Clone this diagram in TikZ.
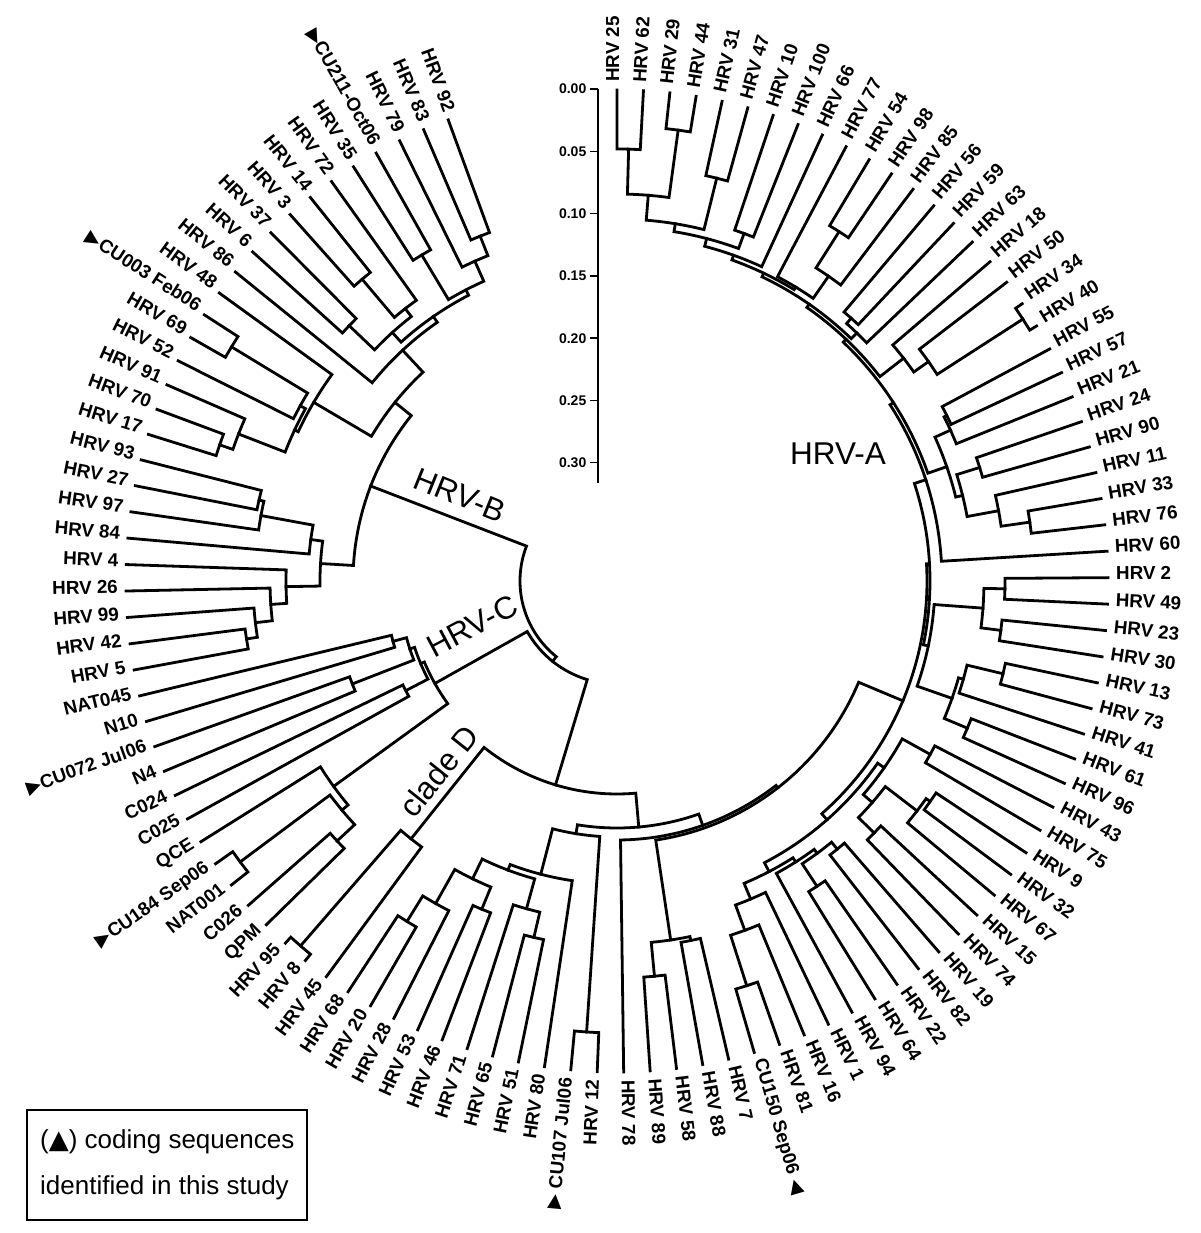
\documentclass[tikz,border=0pt]{standalone}
\usepackage{fontspec}
\newfontfamily\lsans{Liberation Sans}
\newfontfamily\dvs{DejaVu Sans}
\newcommand\mkl{{\dvs\char"25B6}}
\newcommand\mkr{{\dvs\char"25C0}}
\tikzset{
  br/.style={line width=2.8pt,line cap=rect,line join=miter},
  lbl/.style={font=\lsans\bfseries\fontsize{18.8}{20}\selectfont,inner sep=0pt,text height=13.3pt,text depth=0pt},
  cladelbl/.style={font=\lsans\fontsize{31.5}{33}\selectfont,inner sep=0pt},
  tickl/.style={line width=1.4pt},
  scl/.style={font=\lsans\bfseries\fontsize{14}{15}\selectfont,inner sep=0pt,anchor=east},
  legtxt/.style={font=\lsans\fontsize{26}{28}\selectfont,inner sep=0pt,anchor=west},
}
\newcommand\mkleaf[2]{%
  \pgfmathsetmacro\myang{90-#1*3.09}%
  \expandafter\xdef\csname A@L#1\endcsname{\myang}%
  \coordinate (L#1) at (\myang:491);%
  \ifnum#1<59\relax
    \pgfmathsetmacro\px{499*cos(\myang)+2.2*sin(\myang)}%
    \pgfmathsetmacro\py{499*sin(\myang)-2.2*cos(\myang)}%
    \node[lbl,anchor=base west,rotate=\myang] (T#1) at (\px,\py) {#2};%
  \else
    \pgfmathsetmacro\myrot{\myang+180}%
    \pgfmathsetmacro\px{499*cos(\myang)-2.2*sin(\myang)}%
    \pgfmathsetmacro\py{499*sin(\myang)+2.2*cos(\myang)}%
    \node[lbl,anchor=base east,rotate=\myrot] (T#1) at (\px,\py) {#2};%
  \fi}
\newcommand\mkclade[4]{%
  \edef\angA{\csname A@#3\endcsname}%
  \edef\angB{\csname A@#4\endcsname}%
  \pgfmathsetmacro\angM{(\angA+\angB)/2}%
  \expandafter\xdef\csname A@#1\endcsname{\angM}%
  \coordinate (#1) at (\angM:#2);%
  \draw[br] (#3) -- (\angA:#2) arc[start angle=\angA,end angle=\angB,radius=#2pt] -- (#4);}
\begin{document}
\begin{tikzpicture}[x=1pt,y=1pt]
\useasboundingbox (-617,-652) rectangle (583,581);
% leaves
\mkleaf{0}{HRV 25}\mkleaf{1}{HRV 62}\mkleaf{2}{HRV 29}\mkleaf{3}{HRV 44}
\mkleaf{4}{HRV 31}\mkleaf{5}{HRV 47}\mkleaf{6}{HRV 10}\mkleaf{7}{HRV 100}
\mkleaf{8}{HRV 66}\mkleaf{9}{HRV 77}\mkleaf{10}{HRV 54}\mkleaf{11}{HRV 98}
\mkleaf{12}{HRV 85}\mkleaf{13}{HRV 56}\mkleaf{14}{HRV 59}\mkleaf{15}{HRV 63}
\mkleaf{16}{HRV 18}\mkleaf{17}{HRV 50}\mkleaf{18}{HRV 34}\mkleaf{19}{HRV 40}
\mkleaf{20}{HRV 55}\mkleaf{21}{HRV 57}\mkleaf{22}{HRV 21}\mkleaf{23}{HRV 24}
\mkleaf{24}{HRV 90}\mkleaf{25}{HRV 11}\mkleaf{26}{HRV 33}\mkleaf{27}{HRV 76}
\mkleaf{28}{HRV 60}\mkleaf{29}{HRV 2}\mkleaf{30}{HRV 49}\mkleaf{31}{HRV 23}
\mkleaf{32}{HRV 30}\mkleaf{33}{HRV 13}\mkleaf{34}{HRV 73}\mkleaf{35}{HRV 41}
\mkleaf{36}{HRV 61}\mkleaf{37}{HRV 96}\mkleaf{38}{HRV 43}\mkleaf{39}{HRV 75}
\mkleaf{40}{HRV 9}\mkleaf{41}{HRV 32}\mkleaf{42}{HRV 67}\mkleaf{43}{HRV 15}
\mkleaf{44}{HRV 74}\mkleaf{45}{HRV 19}\mkleaf{46}{HRV 82}\mkleaf{47}{HRV 22}
\mkleaf{48}{HRV 64}\mkleaf{49}{HRV 94}\mkleaf{50}{HRV 1}\mkleaf{51}{HRV 16}
\mkleaf{52}{HRV 81}\mkleaf{53}{CU150 Sep06\hspace{6pt}\mkr}\mkleaf{54}{HRV 7}\mkleaf{55}{HRV 88}
\mkleaf{56}{HRV 58}\mkleaf{57}{HRV 89}\mkleaf{58}{HRV 78}\mkleaf{59}{HRV 12}
\mkleaf{60}{\mkl\hspace{6pt}CU107 Jul06}\mkleaf{61}{HRV 80}\mkleaf{62}{HRV 51}\mkleaf{63}{HRV 65}
\mkleaf{64}{HRV 71}\mkleaf{65}{HRV 46}\mkleaf{66}{HRV 53}\mkleaf{67}{HRV 28}
\mkleaf{68}{HRV 20}\mkleaf{69}{HRV 68}\mkleaf{70}{HRV 45}\mkleaf{71}{HRV 8}
\mkleaf{72}{HRV 95}\mkleaf{73}{QPM}\mkleaf{74}{C026}\mkleaf{75}{NAT001}
\mkleaf{76}{\mkl CU184 Sep06}\mkleaf{77}{QCE}\mkleaf{78}{C025}\mkleaf{79}{C024}
\mkleaf{80}{N4}\mkleaf{81}{\mkl CU072 Jul06}\mkleaf{82}{N10}\mkleaf{83}{NAT045}
\mkleaf{84}{HRV 5}\mkleaf{85}{HRV 42}\mkleaf{86}{HRV 99}\mkleaf{87}{HRV 26}
\mkleaf{88}{HRV 4}\mkleaf{89}{HRV 84}\mkleaf{90}{HRV 97}\mkleaf{91}{HRV 27}
\mkleaf{92}{HRV 93}\mkleaf{93}{HRV 17}\mkleaf{94}{HRV 70}\mkleaf{95}{HRV 91}
\mkleaf{96}{HRV 52}\mkleaf{97}{HRV 69}\mkleaf{98}{\mkl CU003 Feb06}\mkleaf{99}{HRV 48}
\mkleaf{100}{HRV 86}\mkleaf{101}{HRV 6}\mkleaf{102}{HRV 37}\mkleaf{103}{HRV 3}
\mkleaf{104}{HRV 14}\mkleaf{105}{HRV 72}\mkleaf{106}{HRV 35}\mkleaf{107}{\mkl CU211-Oct06}
\mkleaf{108}{HRV 79}\mkleaf{109}{HRV 83}\mkleaf{110}{HRV 92}
% HRV-A upper
\mkclade{a1}{432}{L0}{L1}
\mkclade{a2}{455}{L2}{L3}
\mkclade{a3}{387}{a1}{a2}
\mkclade{a4}{415}{L4}{L5}
\mkclade{a5}{362}{a3}{a4}
\mkclade{a6}{370}{L6}{L7}
\mkclade{a7}{354}{a5}{a6}
\mkclade{a7b}{346}{a7}{L8}
\mkclade{a8}{414}{L10}{L11}
\mkclade{a9}{371}{a8}{L12}
\mkclade{a10}{344}{L9}{a9}
\mkclade{s1}{341}{a7b}{a10}
\mkclade{q1}{352}{L13}{L14}
\mkclade{q2}{345}{q1}{L15}
\mkclade{s4}{337}{s1}{q2}
\mkclade{a13}{483}{L18}{L19}
\mkclade{a14}{381}{L17}{a13}
\mkclade{aA3}{363}{L16}{a14}
\mkclade{s5}{333}{s4}{aA3}
\mkclade{a15}{369}{L20}{L21}
\mkclade{a16}{366}{a15}{L22}
\mkclade{a17}{380}{L23}{L24}
\mkclade{a18}{417}{L26}{L27}
\mkclade{a19}{388}{L25}{a18}
\mkclade{a20}{356}{a17}{a19}
\mkclade{aA4}{349}{a16}{a20}
\mkclade{s6}{329}{s5}{aA4}
\mkclade{s7}{325}{s6}{L28}
\mkclade{a21}{388}{L29}{L30}
\mkclade{a22}{387}{L31}{L32}
\mkclade{a23}{367}{a21}{a22}
\mkclade{a24}{397}{L33}{L34}
\mkclade{a25}{360}{a24}{L35}
\mkclade{a26}{380}{L36}{L37}
\mkclade{a27}{355}{a25}{a26}
\mkclade{aU2}{318}{a23}{a27}
\mkclade{aU}{313}{s7}{aU2}
% HRV-A lower
\mkclade{a31}{358}{L38}{L39}
\mkclade{a32}{383}{L40}{L41}
\mkclade{a33}{378}{a32}{L42}
\mkclade{a34}{360}{L43}{L44}
\mkclade{a35}{338}{a33}{a34}
\mkclade{a36}{326}{a31}{a35}
\mkclade{a37}{347}{L45}{L46}
\mkclade{a38}{365}{L47}{L48}
\mkclade{a39}{338}{a37}{a38}
\mkclade{a40}{333}{a39}{L49}
\mkclade{a42}{425}{L52}{L53}
\mkclade{a43}{372}{L51}{a42}
\mkclade{a44}{345}{L50}{a43}
\mkclade{a45}{328}{a40}{a44}
\mkclade{aLow}{318}{a36}{a45}
\mkclade{aRp}{310}{aU}{aLow}
\mkclade{a46}{397}{L56}{L57}
\mkclade{a47}{367}{L54}{L55}
\mkclade{a48}{363}{a47}{a46}
\mkclade{aR}{262}{aRp}{a48}
\mkclade{aN78}{259}{aR}{L58}
% bottom group
\mkclade{d0}{452}{L59}{L60}
\mkclade{d1}{366}{L62}{L63}
\mkclade{d2}{340}{d1}{L64}
\mkclade{d3}{355}{L65}{L66}
\mkclade{d7}{400}{L68}{L69}
\mkclade{d4}{370}{L67}{d7}
\mkclade{d5}{331}{d3}{d4}
\mkclade{d6}{309}{d2}{d5}
\mkclade{dX}{303}{L61}{d6}
\mkclade{dB}{256}{d0}{dX}
\mkclade{aG}{247}{aN78}{dB}
% clade D
\mkclade{D1}{483}{L71}{L72}
\mkclade{D2}{330}{L70}{D1}
\mkclade{AD}{213}{aG}{D2}
% HRV-C
\mkclade{c1}{470}{L75}{L76}
\mkclade{c2}{382}{L73}{L74}
\mkclade{c3}{358}{c2}{c1}
\mkclade{c4}{350}{c3}{L77}
\mkclade{c9}{284}{L80}{L81}
\mkclade{c8}{232}{L82}{L83}
\mkclade{cA}{218}{c9}{c8}
\mkclade{cCC}{238}{L78}{L79}
\mkclade{cB}{213}{cCC}{cA}
\mkclade{Cc}{209}{c4}{cB}
\mkclade{CAD}{103}{AD}{Cc}
% HRV-B
\mkclade{f1}{367}{L91}{L92}
\mkclade{f2}{362}{L90}{f1}
\mkclade{f3}{309}{L89}{f2}
\mkclade{g1}{375}{L84}{L85}
\mkclade{g2}{364}{g1}{L86}
\mkclade{g3}{347}{g2}{L87}
\mkclade{g4}{331}{g3}{L88}
\mkclade{B1}{297}{g4}{f3}
\mkclade{h1}{420}{L93}{L94}
\mkclade{h2}{406}{h1}{L95}
\mkclade{h3}{451}{L97}{L98}
\mkclade{h4}{362}{L96}{h3}
\mkclade{h5}{356}{h2}{h4}
\mkclade{h6}{352}{h5}{L99}
\mkclade{y1}{370}{L101}{L102}
\mkclade{y2}{395}{L103}{L104}
\mkclade{y3}{345}{y2}{L105}
\mkclade{yY1}{335}{y1}{y3}
\mkclade{e3}{380}{L106}{L107}
\mkclade{e1}{371}{L109}{L110}
\mkclade{e2}{350}{L108}{e1}
\mkclade{e4}{328}{e3}{e2}
\mkclade{yY}{322}{yY1}{e4}
\mkclade{b6}{315}{L100}{yY}
\mkclade{B2}{285}{h6}{b6}
\mkclade{Bb}{264}{B1}{B2}
\mkclade{root}{97}{Bb}{CAD}
% clade labels
\node[cladelbl,anchor=base west] (labA) at (173,116) {HRV-A};
\node[cladelbl,rotate=-22] (labB) at (-157,86) {HRV-B};
\node[cladelbl,rotate=28] (labC) at (-145,-45) {HRV-C};
\node[cladelbl,rotate=51.5] (labD) at (-178,-190) {clade D};
% scale bar
\coordinate (sbt) at (-19,492);
\coordinate (sbb) at (-19,98);
\draw[tickl] (sbt) -- (sbb);
\foreach \k/\t in {0/0.00,1/0.05,2/0.10,3/0.15,4/0.20,5/0.25,6/0.30}{
  \pgfmathsetmacro\yy{492-62.3*\k}
  \coordinate (tk\k) at (-19,\yy);
  \draw[tickl] (tk\k) -- ++(-8,0) node[scl,xshift=-3pt] {\t};
}
% legend
\node[draw,line width=1.8pt,minimum width=280pt,minimum height=110pt,anchor=north west,inner sep=0pt] (leg) at (-591,-528) {};
\node[legtxt] (leg1) at (-577,-561) {({\dvs\char"25B2}) coding sequences};
\node[legtxt] (leg2) at (-577,-607) {identified in this study};
\end{tikzpicture}
\end{document}
